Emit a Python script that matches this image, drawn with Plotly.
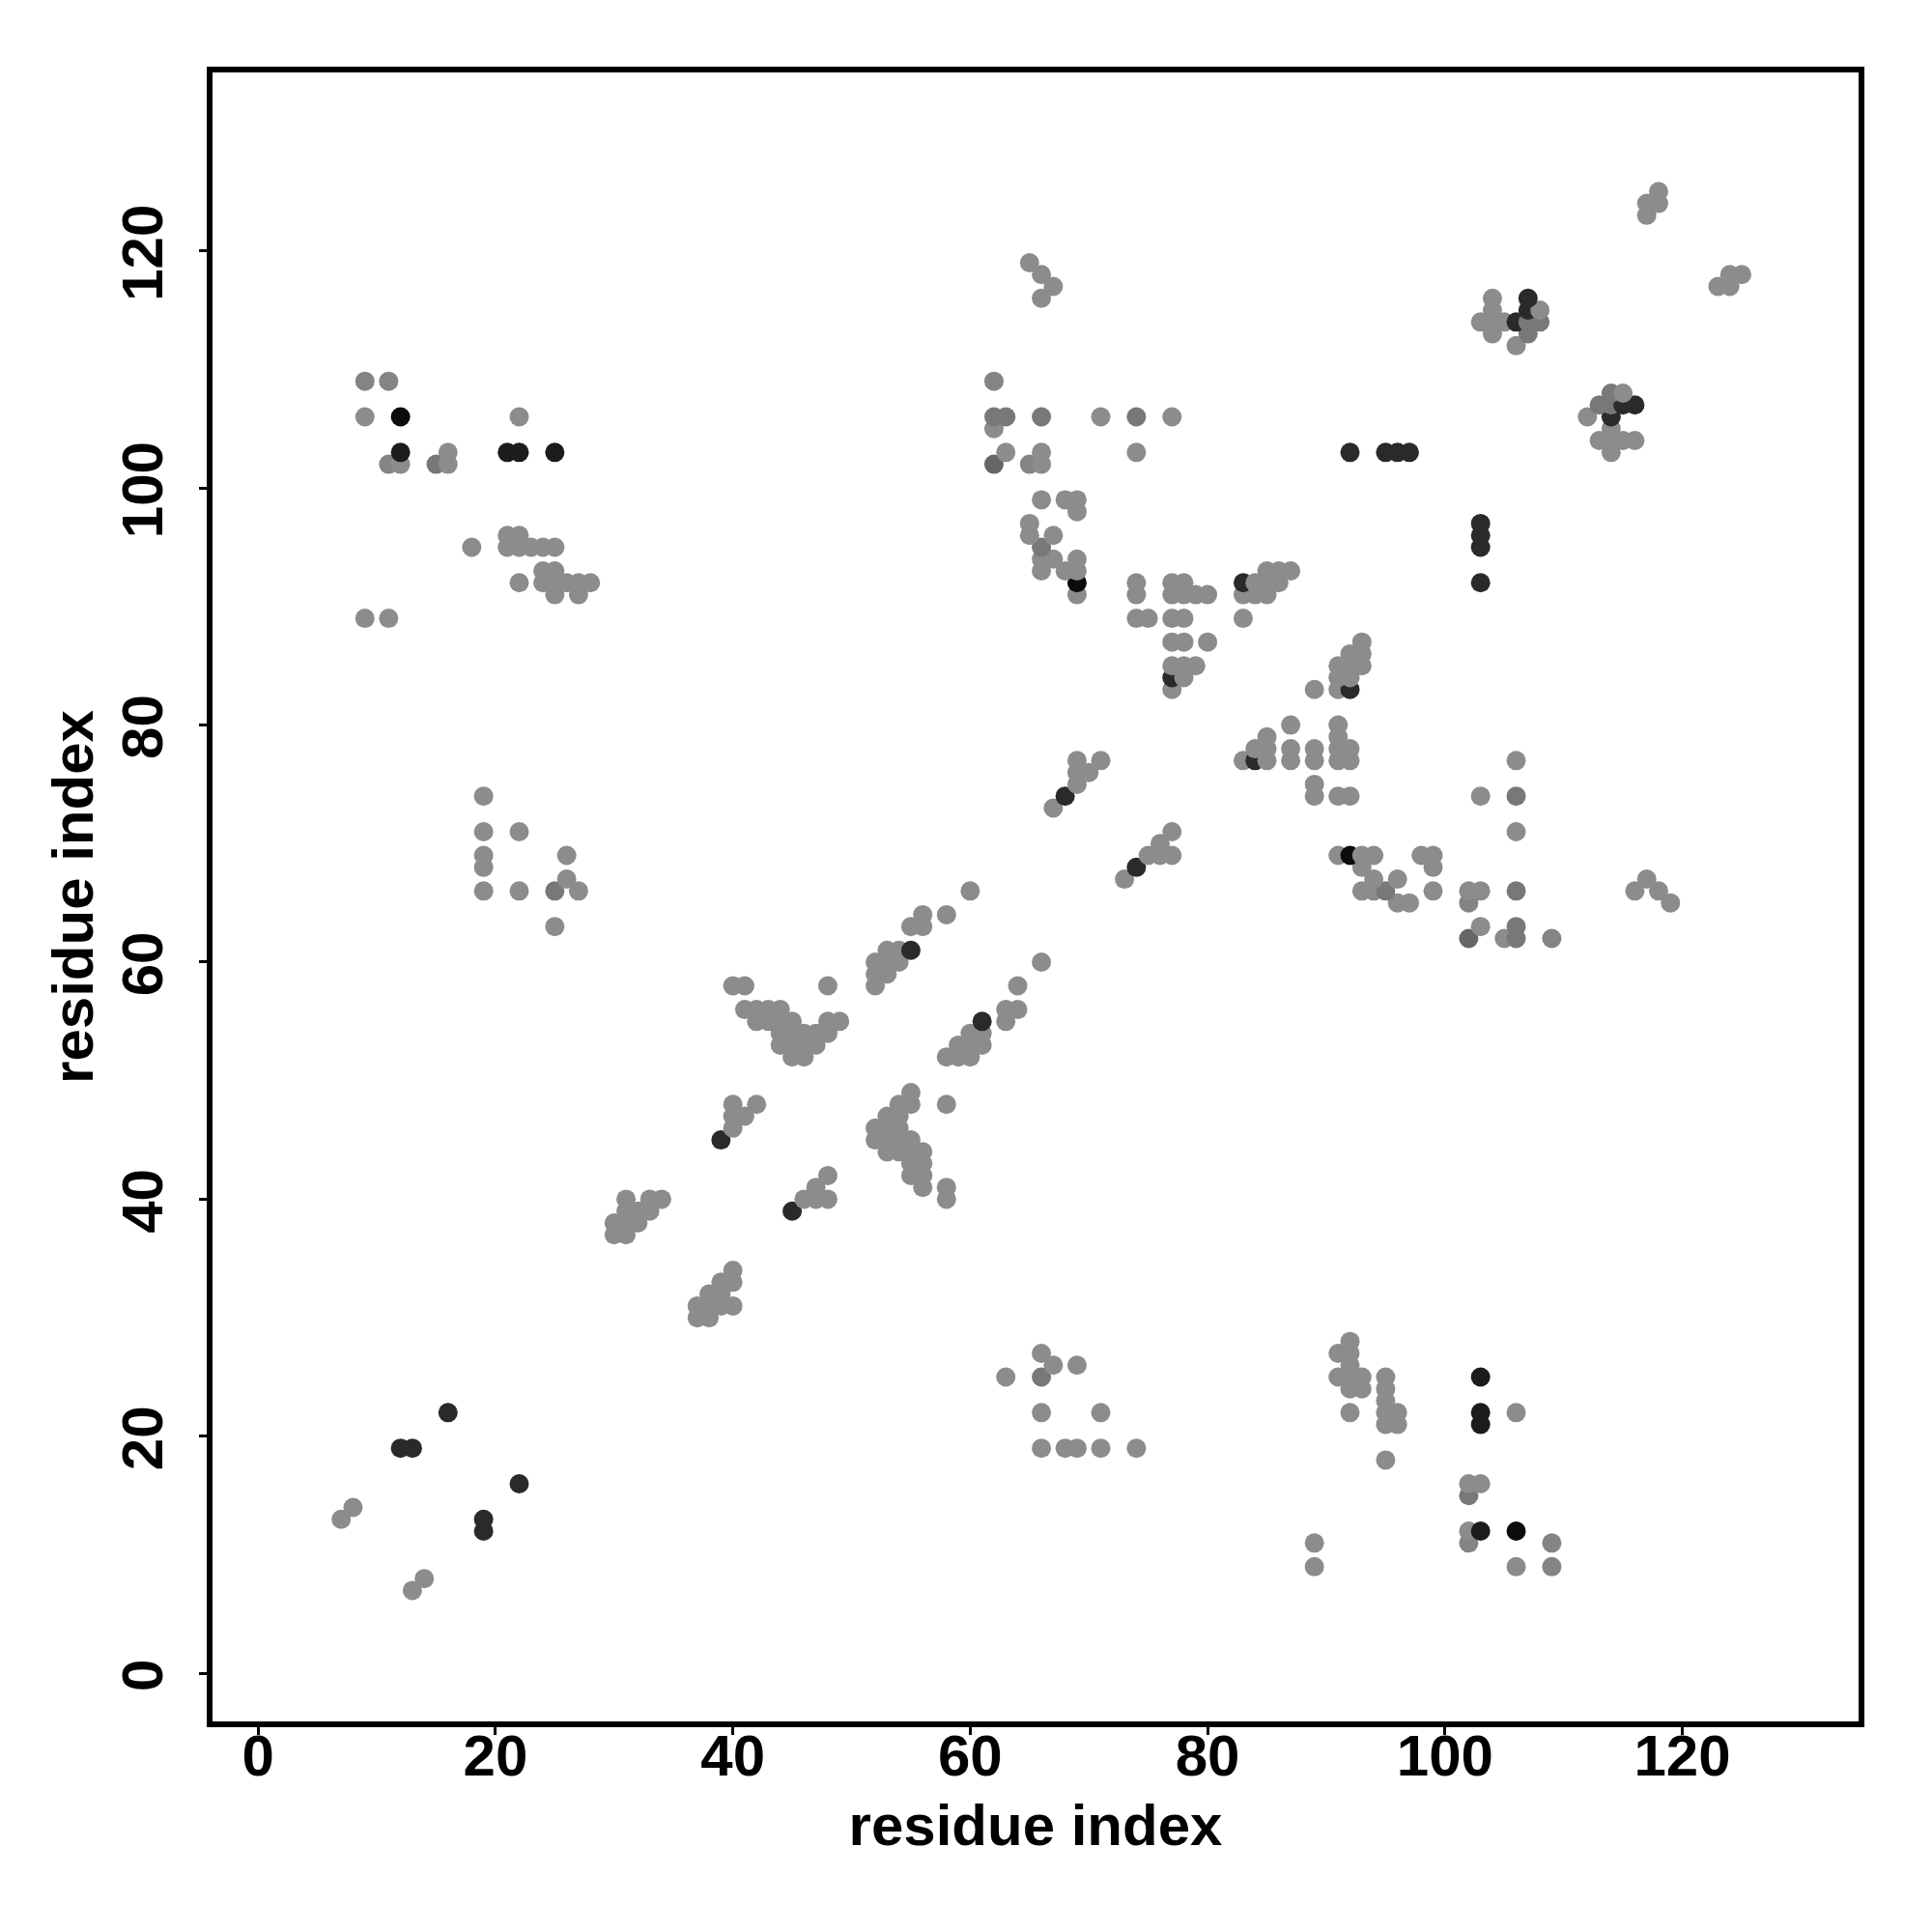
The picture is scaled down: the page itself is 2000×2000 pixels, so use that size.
import plotly.graph_objects as go
import pandas as pd

light_contacts = [
    (7,13),(8,14),(9,89),(9,106),(11,89),(12,102),(16,102),(16,103),(18,95),
    (19,66),(19,68),(19,69),(19,71),(19,74),(21,95),(21,96),(22,66),(22,71),(22,92),(22,95),(22,96),(22,106),
    (23,95),(24,92),(24,93),(24,95),(25,63),(25,91),(25,92),(25,93),(25,95),(26,67),(26,69),(26,92),
    (27,66),(27,91),(27,92),(28,92),
    (30,37),(30,38),(31,37),(31,38),(31,39),(31,40),(32,38),(32,39),(33,39),(33,40),(34,40),
    (40,46),(40,47),(40,48),(41,47),(42,48),(40,58),(41,56),(41,58),(42,55),(42,56),(43,55),(43,56),
    (44,53),(44,54),(44,55),(44,56),(45,52),(45,53),(45,54),(45,55),(46,52),(46,53),(46,54),(47,53),(47,54),
    (48,54),(48,55),(48,58),(49,55),(52,58),(52,59),(52,60),(53,59),(53,60),(53,61),(54,60),(54,61),
    (55,63),(56,63),(56,64),(58,64),(60,66),
    (62,105),(63,103),(65,96),(65,97),(65,119),(66,93),(66,94),(66,99),(66,102),(66,103),(66,116),(66,118),
    (67,73),(67,94),(67,96),(67,117),(68,93),(68,99),(69,75),(69,76),(69,77),(69,91),(69,93),(69,94),(69,98),(69,99),
    (70,76),(71,77),(71,106),(74,89),(74,91),(74,92),(74,103),(75,89),
    (77,83),(77,85),(77,87),(77,89),(77,91),(77,92),(77,106),(78,84),(78,85),(78,87),(78,89),(78,91),(78,92),
    (79,85),(79,91),(80,87),(80,91),(83,89),(83,91),(84,91),(84,92),(85,91),(85,92),(85,93),(86,92),(86,93),(87,93),
    (103,114),(104,113),(104,114),(104,115),(104,116),(105,114),(106,112),(108,115),
    (117,123),(117,124),(118,124),(118,125),
]
soft_contacts = [(9,109),(11,102),(11,109),(62,109),(65,102)]
mid_contacts = [
    (15,102),(25,66),(62,106),(63,106),(66,95),(66,106),(74,106),
    (107,113),(107,114),(108,114),
]
dim_contacts = [(62,102)]
dark_contacts = [
    (12,19),(13,19),(16,22),(39,45),(55,61),(68,74),(77,84),(83,92),(92,103),(95,103),(96,103),(97,103),
    (106,114),(107,115),(107,116),
]
darker_contacts = [(12,103),(21,103),(22,103),(25,103)]
black_contacts = [(12,106),(69,92)]

tick_values = [0, 20, 40, 60, 80, 100, 120]
axis_label = "residue index"

level_colors = {
    "light": "#8c8c8c", "soft": "#848484", "mid": "#787878", "dim": "#666666",
    "dark": "#2a2a2a", "darker": "#1c1c1c", "black": "#0c0c0c",
}
levels = {
    "light": light_contacts, "soft": soft_contacts, "mid": mid_contacts, "dim": dim_contacts,
    "dark": dark_contacts, "darker": darker_contacts, "black": black_contacts,
}

rows = []
for name, pairs in levels.items():
    for i, j in pairs:
        rows.append((i, j, level_colors[name]))
        rows.append((j, i, level_colors[name]))
df = pd.DataFrame(rows, columns=["x", "y", "color"]).sort_values(["y", "x"])

fig = go.Figure(go.Scatter(
    x=df["x"], y=df["y"], mode="markers",
    marker=dict(size=20, color=df["color"], line=dict(width=0)),
    hoverinfo="skip",
))

font = "Liberation Sans"
axis_common = dict(
    tickmode="array", tickvals=tick_values, ticktext=[str(v) for v in tick_values],
    showgrid=False, zeroline=False, showline=True, mirror=True,
    linecolor="black", linewidth=6,
    ticks="outside", ticklen=8, tickwidth=3, tickcolor="black",
    tickfont=dict(family=font, size=60, color="black", weight="bold"),
)
title_font = dict(family=font, size=60, color="black", weight="bold")
fig.update_layout(
    width=2000, height=2000, autosize=False,
    margin=dict(l=212, r=84, t=67, b=226, pad=0),
    paper_bgcolor="white", plot_bgcolor="white", showlegend=False,
    font=dict(family=font),
    xaxis=dict(range=[-3.84, 134.85], tickangle=0, ticklabelstandoff=-30,
               title=dict(text=axis_label, standoff=20, font=title_font),
               **axis_common),
    yaxis=dict(range=[-4.05, 135.05], tickangle=-90, ticklabelstandoff=14, ticklabelshift=11,
               title=dict(text=axis_label, standoff=0, font=title_font),
               **axis_common),
)
fig.write_html("out.html")
